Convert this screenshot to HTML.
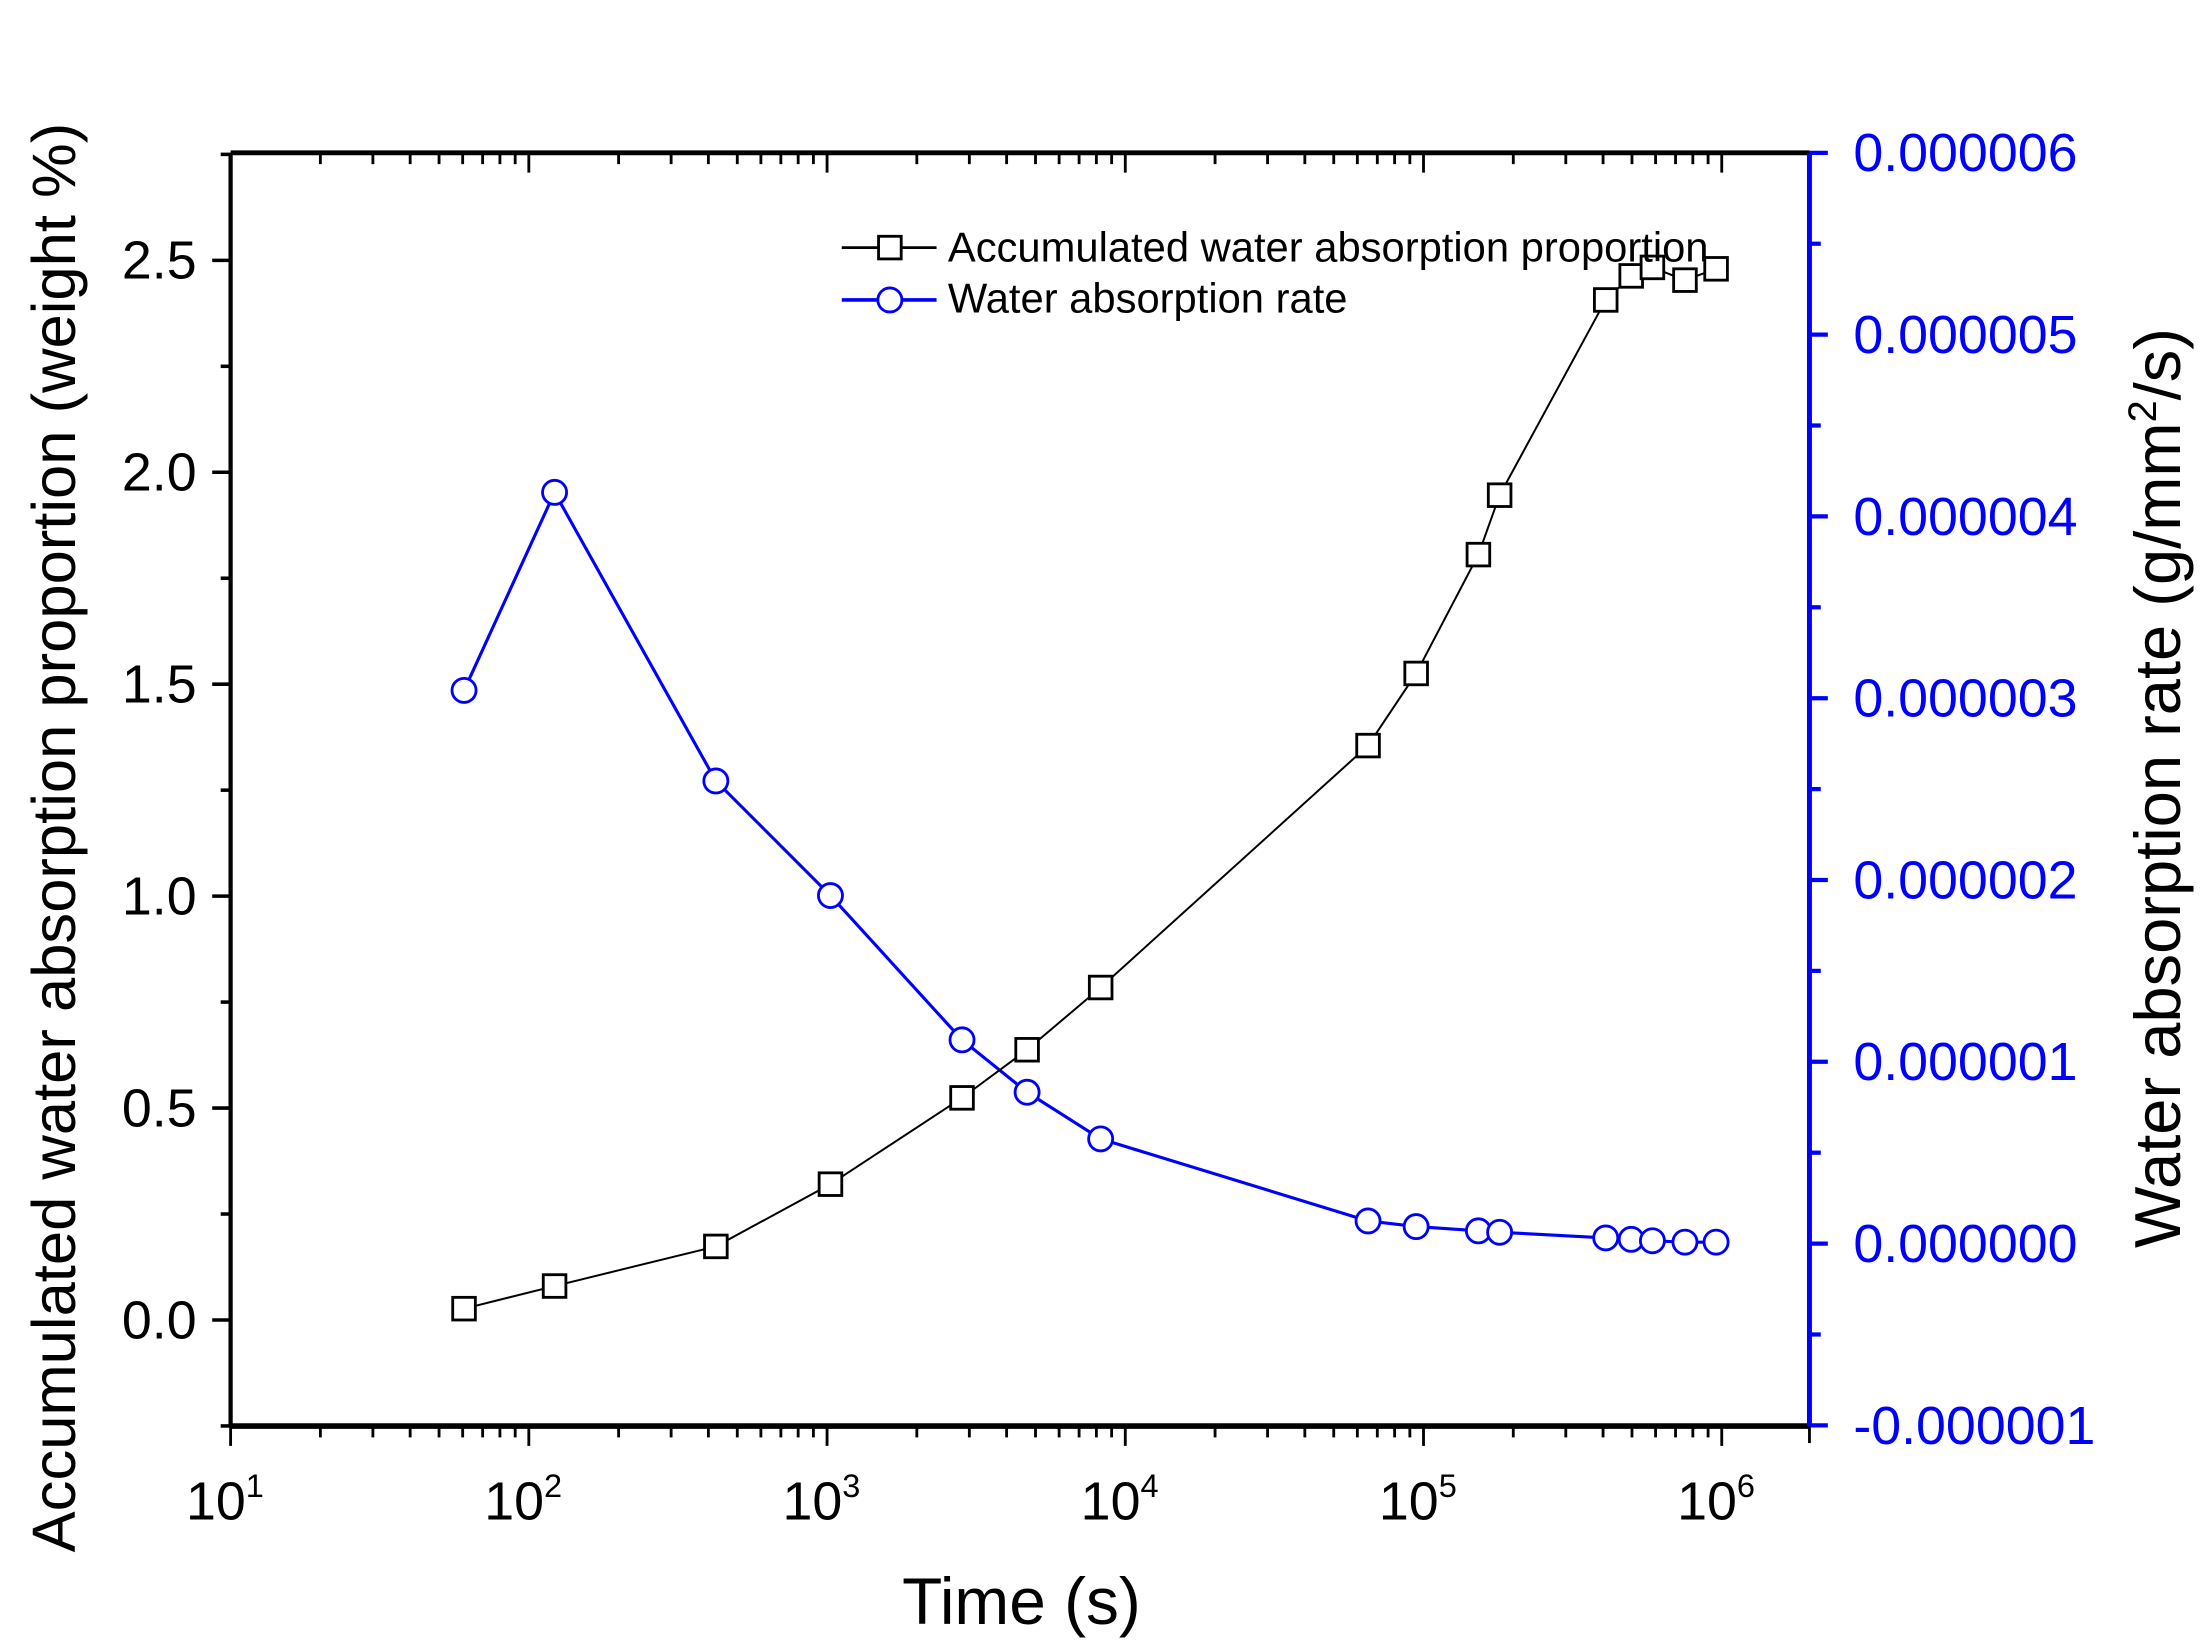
<!DOCTYPE html>
<html><head><meta charset="utf-8"><style>
html,body{margin:0;padding:0;background:#fff;}
svg{display:block;}
text{font-family:"Liberation Sans",Arial,sans-serif;}
</style></head><body>
<svg id="s" xmlns="http://www.w3.org/2000/svg" width="2207" height="1642" viewBox="0 0 1560 1160.6">
<rect x="0" y="0" width="1560" height="1161" fill="#fff"/>
<g id="g"></g>
</svg>
<script>
const L=163,R=1279,T=108,B=1008;
const g=document.getElementById('g');
let h='';
function ln(x1,y1,x2,y2,c,w){h+=`<line x1="${x1}" y1="${y1}" x2="${x2}" y2="${y2}" stroke="${c}" stroke-width="${w}"/>`;}
function tx(x,y,s,fs,c,a,extra){h+=`<text x="${x}" y="${y}" font-size="${fs}" fill="${c}" text-anchor="${a||'middle'}" ${extra||''}>${s}</text>`;}
const dec=(1217-163)/5;
function X(v){return L+(Math.log10(v)-1)*dec;}
for(let d=1;d<=6;d++){
  for(let k=1;k<=9;k++){
    const v=k*Math.pow(10,d); const x=X(v); if(x>R+0.5)break;
    const maj=k===1;
    ln(x,B,x,B+(maj?14:8),'#000',2);
    ln(x,T,x,T+(maj?14:8),'#000',2);
  }
  h+=`<text x="${X(Math.pow(10,d))-4}" y="1074" font-size="38" text-anchor="middle">10<tspan dy="-16" font-size="23">${d}</tspan></text>`;
}
ln(R,B,R,B+12,'#000',2);ln(R,T,R,T+12,'#000',2);
function Y1(v){return 933-(v)*(933-184)/2.5;}
for(let i=-1;i<=11;i++){
  const v=i*0.25;const y=Y1(v); if(y>B+0.5||y<T-0.5)continue;
  const maj=i%2===0;
  ln(L,y,L-(maj?13:7),y,'#000',2.5);
  if(maj&&v>=0) tx(L-24,y+13,v.toFixed(1),38,'#000','end');
}
function Y2(v){return 879-v*(879-108)/6;}
for(let i=-2;i<=12;i++){
  const v=i*0.5;const y=Y2(v);
  const maj=i%2===0;
  ln(R,y,R+(maj?13:8),y,'#00f',3);
  if(maj){const s=(v<0?'-':'')+'0.00000'+Math.abs(v);tx(R+31,y+13,s,38,'#00f','start');}
}
ln(L,T,R,T,'#000',3.5);ln(L,B,R,B,'#000',4);ln(L,T,L,B,'#000',3);ln(R,T,R,B,'#00f',3.5);
const sq=[[328,925],[392,909],[506,881],[587,837],[680,776],[726,742],[778,698],[967,527],[1001,476],[1045,392],[1060,350],[1135,212],[1153,195],[1168,189],[1191,198],[1213,190]];
const ci=[[328,488],[392,348],[506,552],[587,633],[680,735],[726,772],[778,805],[967,863],[1001,867],[1045,870],[1060,871],[1135,875],[1153,876],[1168,877],[1191,878],[1213,878]];
h+=`<polyline points="${ci.map(p=>p.join(',')).join(' ')}" fill="none" stroke="#00f" stroke-width="2.2"/>`;
ci.forEach(p=>{h+=`<circle cx="${p[0]}" cy="${p[1]}" r="8.5" fill="#fff" stroke="#00f" stroke-width="2"/>`;});
h+=`<polyline points="${sq.map(p=>p.join(',')).join(' ')}" fill="none" stroke="#000" stroke-width="1.4"/>`;
sq.forEach(p=>{h+=`<rect x="${p[0]-8}" y="${p[1]-8}" width="16" height="16" fill="#fff" stroke="#000" stroke-width="2"/>`;});
ln(595,175,662,175,'#000',2);h+=`<rect x="621" y="167" width="16" height="16" fill="#fff" stroke="#000" stroke-width="2"/>`;
tx(670,185,'Accumulated water absorption proportion',29.5,'#000','start');
ln(595,212,662,212,'#00f',2.5);h+=`<circle cx="629" cy="212" r="8.5" fill="#fff" stroke="#00f" stroke-width="2"/>`;
tx(670,221,'Water absorption rate',29.5,'#000','start');
tx(722,1148,'Time (s)',46.5,'#000','middle');
tx(0,0,'Accumulated water absorption proportion (weight %)',43.5,'#000','middle','transform="translate(53,592) rotate(-90)"');
h+=`<text transform="translate(1541,557) rotate(-90)" font-size="46" text-anchor="middle">Water absorption rate (g/mm<tspan dy="-17" font-size="28">2</tspan><tspan dy="17">/s)</tspan></text>`;
g.innerHTML=h;
</script>
</body></html>
